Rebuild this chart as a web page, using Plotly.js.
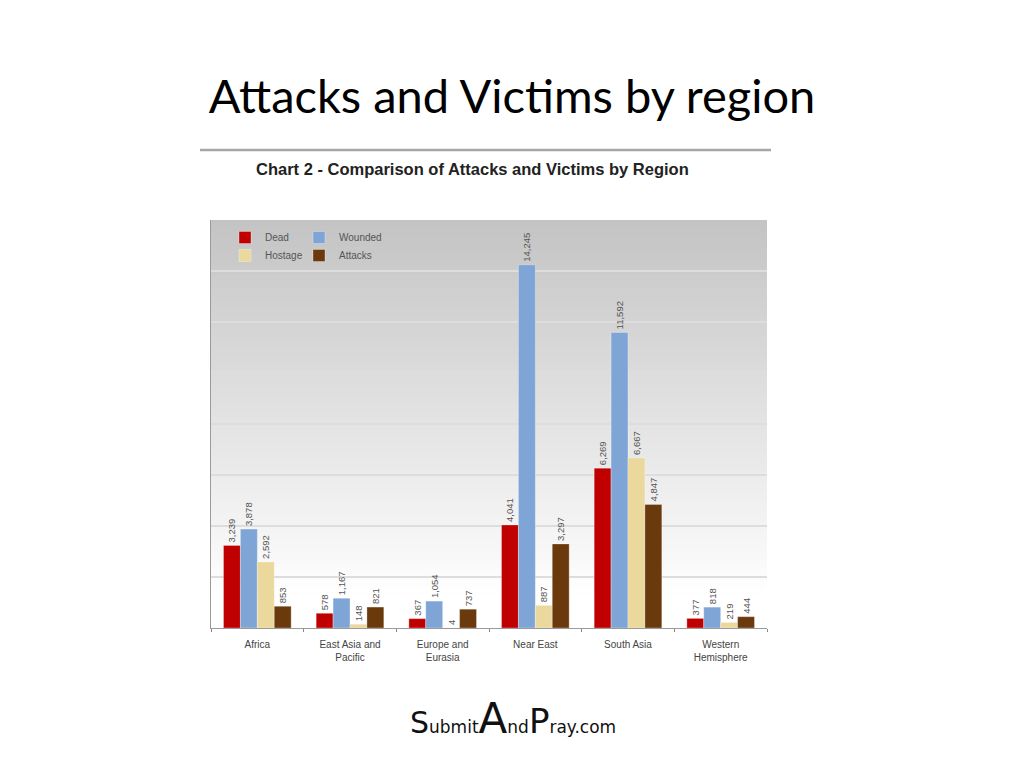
<!DOCTYPE html>
<html>
<head>
<meta charset="utf-8">
<script src="https://cdn.plot.ly/plotly-3.0.1.min.js"></script>
<style>html,body{margin:0;padding:0;background:#fff;}#chart{width:1024px;height:768px;}</style>
</head>
<body>
<div id="chart"></div>
<script>
var regions = ["Africa", "East Asia and<br>Pacific", "Europe and<br>Eurasia", "Near East", "South Asia", "Western<br>Hemisphere"];
var dead = [3239, 578, 367, 4041, 6269, 377];
var wounded = [3878, 1167, 1054, 14245, 11592, 818];
var hostage = [2592, 148, 4, 887, 6667, 219];
var attacks = [853, 821, 737, 3297, 4847, 444];
var yTicks = [0, 2000, 4000, 6000, 8000, 10000, 12000, 14000, 16000];

var L = 211, R = 767, T = 220, B = 628;
var W = R - L, H = B - T;
function px(x) { return (x - L) / W; }
function py(y) { return (B - y) / H; }

function mk(name, vals, color, leg) {
  return {
    type: 'bar', name: name, x: regions, y: vals,
    marker: {color: color, line: {color: 'rgba(255,255,255,0.6)', width: 0.5}},
    text: vals.map(function(v){ return v.toLocaleString('en-US'); }),
    textposition: 'outside', textangle: -90, constraintext: 'none',
    textfont: {family: 'Liberation Sans, Arial, sans-serif', size: 9.5, color: '#555'},
    cliponaxis: false, legend: leg, hoverinfo: 'x+y'
  };
}

var data = [
  mk('Dead', dead, '#c00000', 'legend'),
  mk('Wounded', wounded, '#7ea5d5', 'legend2'),
  mk('Hostage', hostage, '#ead89c', 'legend3'),
  mk('Attacks', attacks, '#6a3a0c', 'legend4')
];

// background gradient (gray top -> white bottom), overlapping rects to avoid seams
var shapes = [];
var N = 60;
for (var i = 0; i < N; i++) {
  var f = i / N;
  var g = Math.round(196 + (255 - 196) * Math.min(1, f / 0.92));
  shapes.push({type: 'rect', xref: 'paper', yref: 'paper', layer: 'below',
    x0: 0, x1: 1, y0: 0, y1: 1 - i / N,
    fillcolor: 'rgb(' + g + ',' + g + ',' + g + ')', line: {width: 0}});
}
shapes.push({type: 'line', xref: 'paper', yref: 'paper', x0: px(200), x1: px(771), y0: py(150), y1: py(150),
  line: {color: '#a6a6a6', width: 2.5}});

var legendFont = {family: 'Liberation Sans, Arial, sans-serif', size: 10, color: '#555'};
function leg(x, y) {
  return {orientation: 'v', x: px(x), y: py(y), xanchor: 'left', yanchor: 'top',
    bgcolor: 'rgba(0,0,0,0)', font: legendFont, itemwidth: 30, tracegroupgap: 0};
}

var layout = {
  width: 1024, height: 768,
  margin: {l: L, r: 1024 - R, t: T, b: 768 - B, pad: 0},
  paper_bgcolor: '#ffffff', plot_bgcolor: 'rgba(0,0,0,0)',
  barmode: 'group', bargap: 0.27, bargroupgap: 0,
  showlegend: true,
  title: {text: 'Attacks and Victims by region', x: 0.5, xanchor: 'center', xref: 'container',
    y: 1 - 97 / 768, yanchor: 'middle', yref: 'container',
    font: {family: 'Lato, Open Sans, sans-serif', size: 47, color: '#000'}},
  xaxis: {tickson: 'boundaries', ticks: 'outside', ticklen: 3, tickcolor: '#888',
    showline: true, linecolor: '#9a9a9a', linewidth: 1, showgrid: false, ticklabelstandoff: 7,
    tickfont: {family: 'Liberation Sans, Arial, sans-serif', size: 10, color: '#444'}},
  yaxis: {range: [0, 16000], tickvals: yTicks, showticklabels: false, ticks: '',
    showline: true, linecolor: '#9a9a9a', linewidth: 1,
    showgrid: true, gridcolor: '#dddddd', gridwidth: 1.5, zeroline: false, fixedrange: true},
  legend: leg(225, 223),
  legend2: leg(299, 223),
  legend3: leg(225, 241),
  legend4: leg(299, 241),
  shapes: shapes,
  annotations: [
    {text: '<b>Chart 2 - Comparison of Attacks and Victims by Region</b>', xref: 'paper', yref: 'paper',
      x: px(472), y: py(169), xanchor: 'center', yanchor: 'middle', showarrow: false,
      font: {family: 'Liberation Sans, Arial, sans-serif', size: 16.5, color: '#222'}},
    {text: '<span style="font-size:30px">S</span>ubmit<span style="font-size:42px">A</span>nd<span style="font-size:34px">P</span>ray.com',
      xref: 'paper', yref: 'paper', x: px(513), y: py(718), xanchor: 'center', yanchor: 'middle', showarrow: false,
      font: {family: 'DejaVu Sans, sans-serif', size: 17, color: '#111'}}
  ]
};

Plotly.newPlot('chart', data, layout, {displayModeBar: false, staticPlot: true});
</script>
</body>
</html>
